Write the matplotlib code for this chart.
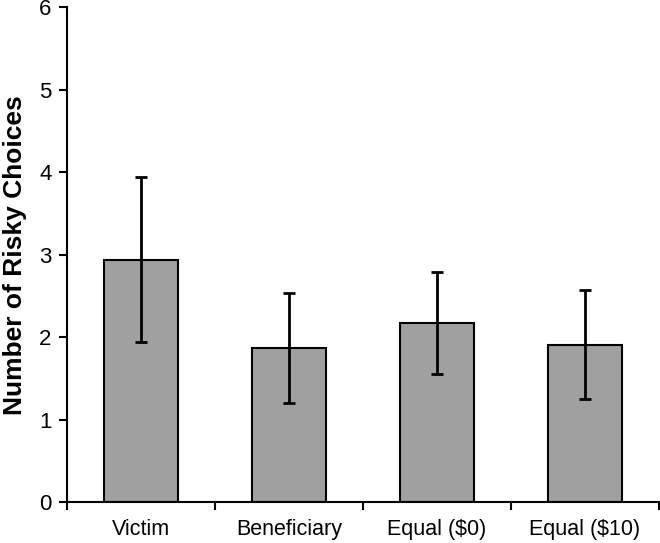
import matplotlib
matplotlib.use("Agg")
import matplotlib.pyplot as plt
import numpy as np

categories = ["Victim", "Beneficiary", "Equal ($0)", "Equal ($10)"]
means = [2.94, 1.87, 2.17, 1.91]
errors = [1.00, 0.67, 0.62, 0.66]
yticks = [0, 1, 2, 3, 4, 5, 6]

plt.rcParams['font.family'] = ['Liberation Sans', 'DejaVu Sans']

fig = plt.figure(figsize=(6.6, 5.43), dpi=100)
ax = fig.add_axes([0.1015, 0.0746, 0.897, 0.9125])

x = np.arange(len(categories))
ax.bar(x, means, width=0.5, color="#a0a0a0", edgecolor="black", linewidth=1.5, zorder=2)
ax.errorbar(x, means, yerr=errors, fmt="none", ecolor="black", elinewidth=2,
            capsize=4.5, capthick=2, zorder=3)

ax.set_xlim(-0.5, 3.5)
ax.set_ylim(0, 6)
ax.set_yticks(yticks)
ax.set_yticklabels([str(t) for t in yticks], fontsize=16)
ax.set_xticks(x)
ax.set_xticklabels(categories, fontsize=15.5)
ax.set_xticks(np.arange(-0.5, 3.6, 1.0), minor=True)
ax.tick_params(axis='x', which='major', length=0, pad=12)
ax.tick_params(axis='x', which='minor', length=6, width=1.5, direction='out')
ax.tick_params(axis='y', length=6, width=1.5, direction='out', pad=5)

for s in ["top", "right"]:
    ax.spines[s].set_visible(False)
for s in ["left", "bottom"]:
    ax.spines[s].set_linewidth(1.5)

ax.set_ylabel("Number of Risky Choices", fontsize=19, fontweight="bold", labelpad=9)

fig.savefig("out.png", dpi=100)
